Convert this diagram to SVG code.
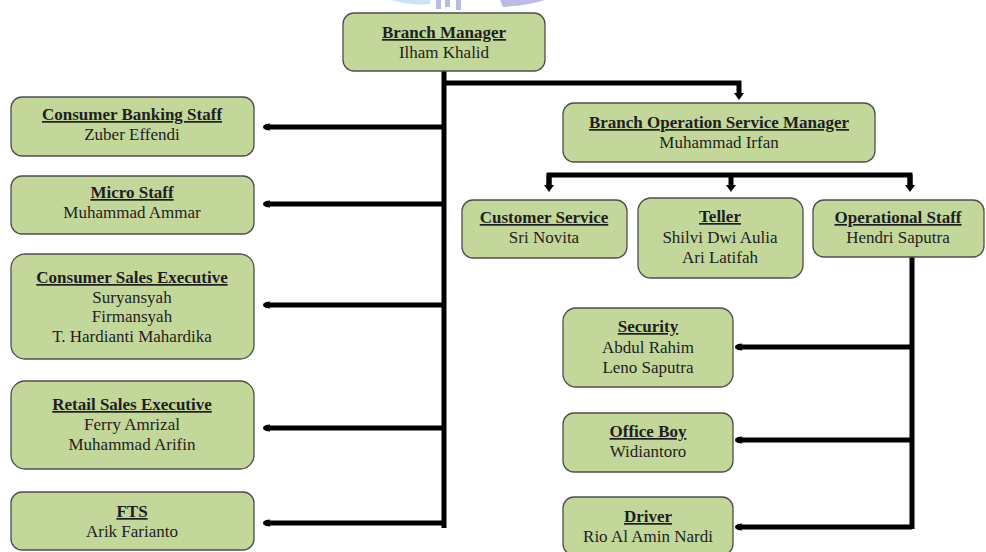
<svg xmlns="http://www.w3.org/2000/svg" width="986" height="552" viewBox="0 0 986 552">
<style>
.box{fill:#c4d79b;stroke:#4d4d4d;stroke-width:1.3}
.t{font-family:"Liberation Serif","Times New Roman",serif;font-size:17px;fill:#1e1e1e;text-anchor:middle}
.h{font-weight:bold;text-decoration:underline}
.ln{fill:none;stroke:#000;stroke-width:5;stroke-linejoin:miter}
.al{fill:none;stroke:#000;stroke-width:5;marker-end:url(#hl)}
.ad{fill:none;stroke:#000;stroke-width:5;marker-end:url(#hd)}
</style>
<defs>
<marker id="hl" markerUnits="userSpaceOnUse" markerWidth="12" markerHeight="12" viewBox="0 -6 10 12" refX="0" refY="0" orient="auto" overflow="visible">
<path d="M0,-3.5 L4,-3 L6.5,-1.5 L7,0 L6.5,1.5 L4,3 L0,3.5 z" fill="#000"/>
</marker>
<marker id="hd" markerUnits="userSpaceOnUse" markerWidth="12" markerHeight="12" viewBox="0 -6 10 12" refX="0" refY="0" orient="auto" overflow="visible">
<path d="M0,-5 L7,0 L0,5 z" fill="#000"/>
</marker>
</defs>
<rect width="986" height="552" fill="#fff"/>
<g id="watermark" opacity="0.6">
<path d="M392,0 Q410,6 430,4 L430,0 z" fill="#a9d3ef"/>
<rect x="436" y="0" width="5" height="9" fill="#8f8fd0"/>
<rect x="445" y="0" width="5" height="7" fill="#8f8fd0"/>
<rect x="456" y="0" width="5" height="10" fill="#8f8fd0"/>
<path d="M500,0 L545,0 Q530,5 503,7 z" fill="#8f8fd0"/>
</g>
<g id="connectors">
<path class="ln" d="M444,71 V528"/>
<path class="ad" d="M444,83 H739 V93"/>
<path class="al" d="M444,127 H270"/>
<path class="al" d="M444,204 H270"/>
<path class="al" d="M444,305 H270"/>
<path class="al" d="M444,428 H270"/>
<path class="al" d="M444,523 H270"/>
<path class="ln" d="M549,185 V175 H910 V185"/>
<path class="ad" d="M549,175 V185"/>
<path class="ad" d="M731,175 V185"/>
<path class="ad" d="M910,175 V185"/>
<path class="ln" d="M912,256 V529"/>
<path class="al" d="M912,347 H742"/>
<path class="al" d="M912,440 H742"/>
<path class="al" d="M912,527 H742"/>
</g>
<g id="branch-manager">
<rect class="box" x="343" y="13" width="202" height="58" rx="11"/>
<text class="t h" x="444" y="38">Branch Manager</text>
<text class="t" x="444" y="58">Ilham Khalid</text>
</g>
<g id="consumer-banking-staff">
<rect class="box" x="11" y="97" width="243" height="59" rx="11"/>
<text class="t h" x="132" y="120">Consumer Banking Staff</text>
<text class="t" x="132" y="140">Zuber Effendi</text>
</g>
<g id="micro-staff">
<rect class="box" x="11" y="176" width="243" height="58" rx="11"/>
<text class="t h" x="132" y="198">Micro Staff</text>
<text class="t" x="132" y="218">Muhammad Ammar</text>
</g>
<g id="consumer-sales-executive">
<rect class="box" x="11" y="254" width="243" height="105" rx="14"/>
<text class="t h" x="132" y="283">Consumer Sales Executive</text>
<text class="t" x="132" y="303">Suryansyah</text>
<text class="t" x="132" y="322">Firmansyah</text>
<text class="t" x="132" y="342">T. Hardianti Mahardika</text>
</g>
<g id="retail-sales-executive">
<rect class="box" x="11" y="381" width="243" height="88" rx="14"/>
<text class="t h" x="132" y="410">Retail Sales Executive</text>
<text class="t" x="132" y="430">Ferry Amrizal</text>
<text class="t" x="132" y="450">Muhammad Arifin</text>
</g>
<g id="fts">
<rect class="box" x="11" y="492" width="243" height="58" rx="11"/>
<text class="t h" x="132" y="517">FTS</text>
<text class="t" x="132" y="537">Arik Farianto</text>
</g>
<g id="branch-operation-service-manager">
<rect class="box" x="563" y="103" width="312" height="59" rx="11"/>
<text class="t h" x="719" y="128">Branch Operation Service Manager</text>
<text class="t" x="719" y="148">Muhammad Irfan</text>
</g>
<g id="customer-service">
<rect class="box" x="462" y="200" width="165" height="58" rx="11"/>
<text class="t h" x="544" y="223">Customer Service</text>
<text class="t" x="544" y="243">Sri Novita</text>
</g>
<g id="teller">
<rect class="box" x="638" y="198" width="165" height="80" rx="13"/>
<text class="t h" x="720" y="222">Teller</text>
<text class="t" x="720" y="243">Shilvi Dwi Aulia</text>
<text class="t" x="720" y="263">Ari Latifah</text>
</g>
<g id="operational-staff">
<rect class="box" x="813" y="200" width="171" height="57" rx="11"/>
<text class="t h" x="898" y="223">Operational Staff</text>
<text class="t" x="898" y="243">Hendri Saputra</text>
</g>
<g id="security">
<rect class="box" x="563" y="308" width="170" height="79" rx="13"/>
<text class="t h" x="648" y="332">Security</text>
<text class="t" x="648" y="353">Abdul Rahim</text>
<text class="t" x="648" y="373">Leno Saputra</text>
</g>
<g id="office-boy">
<rect class="box" x="563" y="413" width="170" height="59" rx="11"/>
<text class="t h" x="648" y="437">Office Boy</text>
<text class="t" x="648" y="457">Widiantoro</text>
</g>
<g id="driver">
<rect class="box" x="563" y="497" width="170" height="58" rx="11"/>
<text class="t h" x="648" y="522">Driver</text>
<text class="t" x="648" y="542">Rio Al Amin Nardi</text>
</g>
</svg>
